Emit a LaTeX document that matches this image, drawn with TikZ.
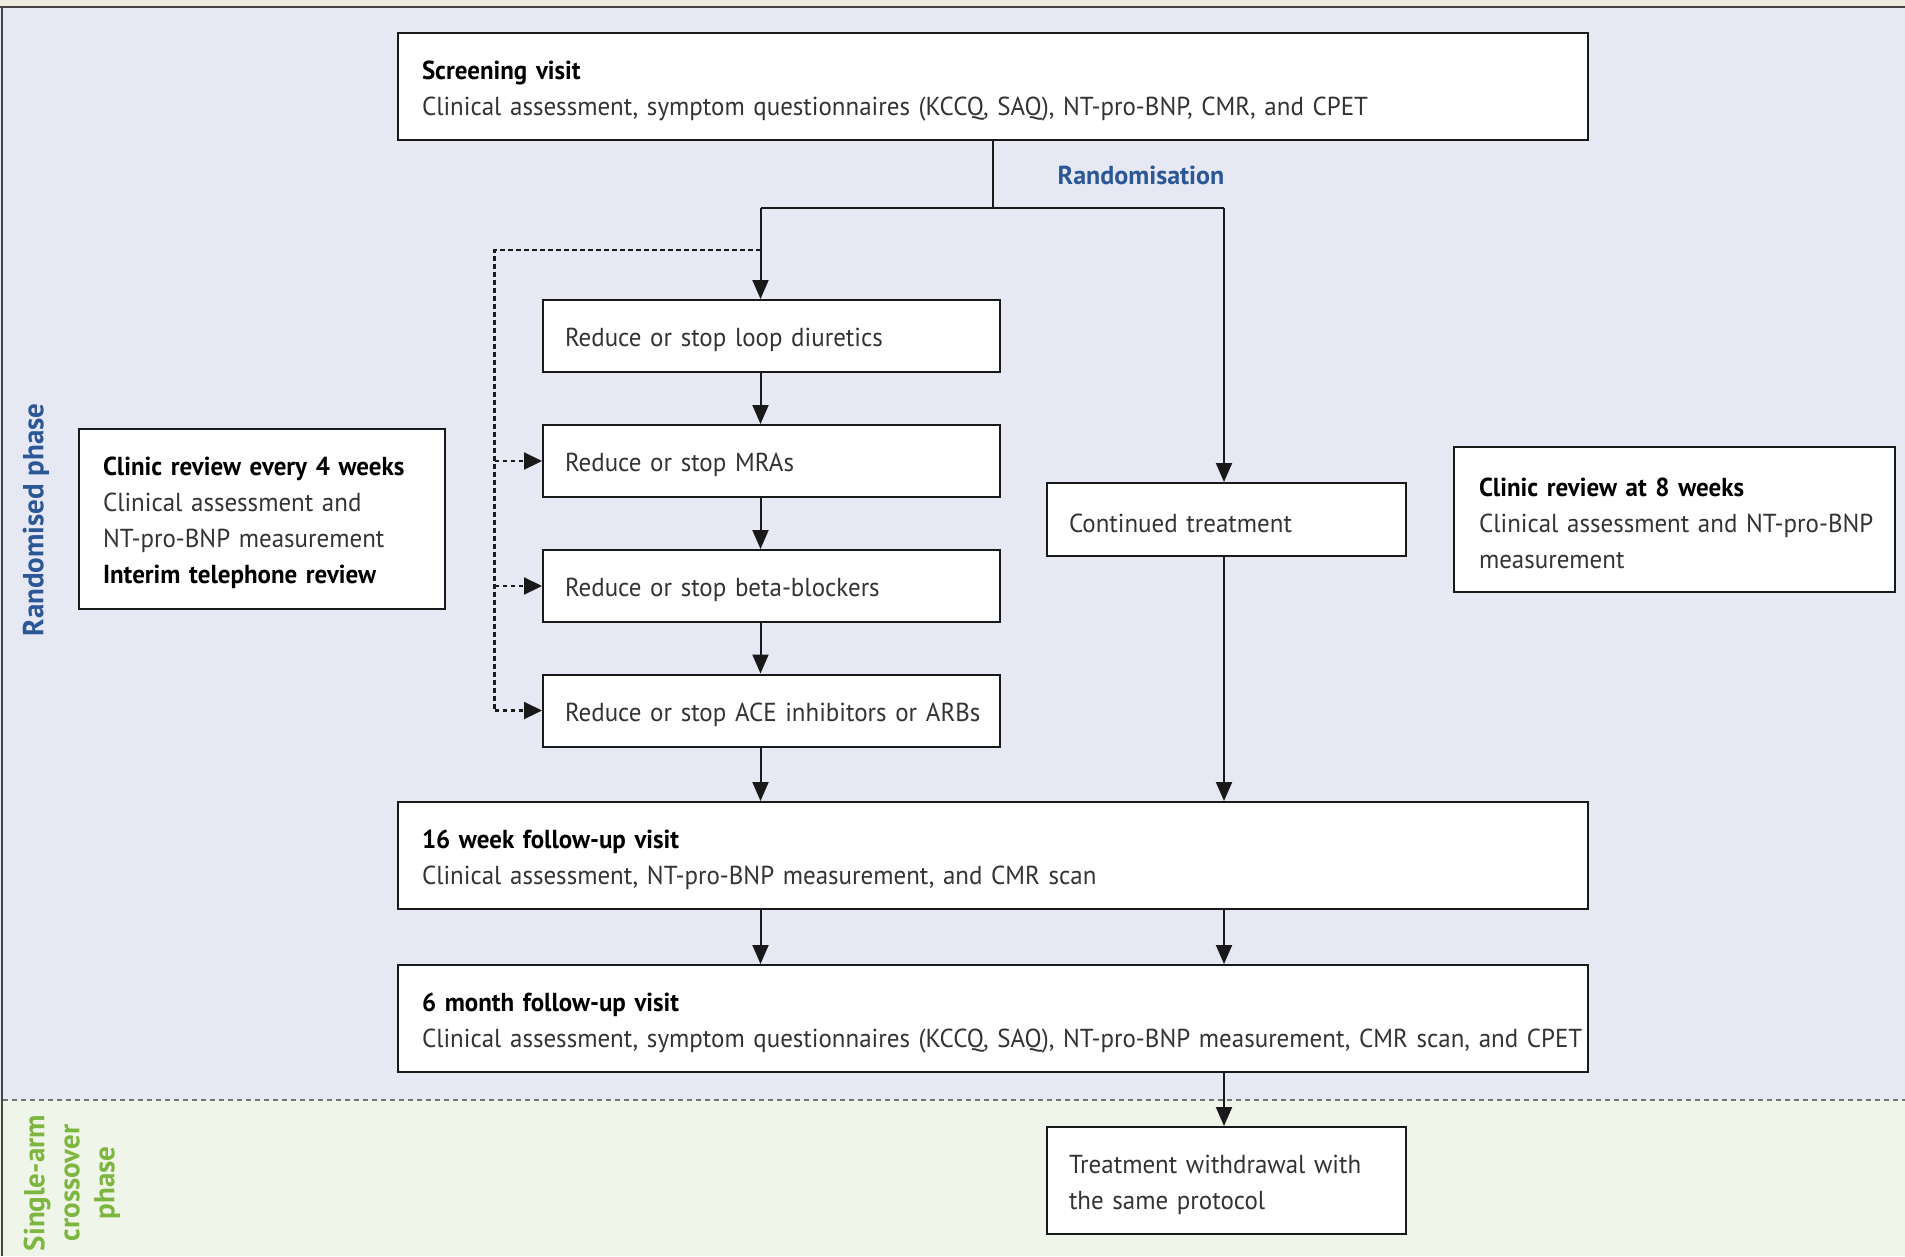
\documentclass[tikz,border=0pt]{standalone}
\usepackage{fontspec}
\setmainfont{PT Sans}[FakeStretch=0.96]
\newfontfamily\lblfont{PT Sans}
\usetikzlibrary{arrows.meta}
\definecolor{lav}{HTML}{E6E8F3}
\definecolor{grn}{HTML}{F0F5E9}
\definecolor{beige}{HTML}{EDEADF}
\definecolor{blu}{HTML}{2B5797}
\definecolor{grt}{HTML}{7DB63E}
\definecolor{txt}{HTML}{333333}
\definecolor{frm}{HTML}{444444}
\newcommand{\boxfont}{\fontsize{26}{36}\selectfont\spaceskip=4.2pt plus 1pt minus 1pt\relax}
\tikzset{
  box/.style={draw=black!90, line width=2pt, fill=white, inner xsep=24pt, inner ysep=4pt,
    align=left, text=txt, font=\boxfont, execute at begin node={\rule{0pt}{27pt}}},
  conn/.style={line width=2pt, draw=black!90},
  arr/.style={conn, -{Triangle[length=19pt,width=16pt]}},
  dot/.style={line width=2.2pt, draw=black!90, dash pattern=on 4.5pt off 3.5pt},
  darr/.style={dot, -{Triangle[length=18pt,width=17pt]}},
  lbl/.style={rotate=90, align=center, font=\lblfont\fontsize{29}{35}\selectfont\bfseries},
}
\newcommand{\hd}[1]{\mbox{\bfseries\color{black}#1}}
\newcommand{\oneline}[1]{\mbox{#1}}
\begin{document}
\begin{tikzpicture}[x=1pt,y=-1pt]
\useasboundingbox (0,0) rectangle (1905,1256);
% backgrounds
\fill[beige] (0,0) rectangle (1905,8);
\fill[lav] (0,8) rectangle (1905,1099.5);
\fill[grn] (0,1099.5) rectangle (1905,1256);
\draw[frm, line width=2pt] (0,7) -- (1905,7);
\draw[frm, line width=2pt] (2,7) -- (2,1256);
\draw[black!55, line width=2pt, dash pattern=on 5pt off 4pt] (3,1099.5) -- (1905,1099.5);

% phase labels
\node[lbl, text=blu] (rp) at (36,520) {Randomised phase};
\node[lbl, text=grt] (sp) at (72,1183) {Single-arm\\crossover\\phase};

% boxes
\node[box, minimum width=1190pt, minimum height=107pt, text width=1142pt] (scr) at (993,86.5)
  {\hd{Screening visit}\\\oneline{Clinical assessment, symptom questionnaires (KCCQ, SAQ), NT-pro-BNP, CMR, and CPET}};
\node[font=\lblfont\fontsize{26}{36}\selectfont\bfseries, text=blu] (rand) at (1141,175) {Randomisation};

\node[box, minimum width=457pt, minimum height=72pt, text width=413pt, inner xsep=22pt] (loop) at (771.5,336) {\oneline{Reduce or stop loop diuretics}};
\node[box, minimum width=457pt, minimum height=72pt, text width=413pt, inner xsep=22pt] (mra) at (771.5,461) {\oneline{Reduce or stop MRAs}};
\node[box, minimum width=457pt, minimum height=72pt, text width=413pt, inner xsep=22pt] (beta) at (771.5,586) {\oneline{Reduce or stop beta-blockers}};
\node[box, minimum width=457pt, minimum height=72pt, text width=413pt, inner xsep=22pt] (ace) at (771.5,710.5) {\oneline{Reduce or stop ACE inhibitors or ARBs}};

\node[box, minimum width=359pt, minimum height=73pt, text width=315pt, inner xsep=22pt] (cont) at (1226.5,519.5) {\oneline{Continued treatment}};

\node[box, minimum width=366pt, minimum height=180pt, text width=318pt] (c4) at (262,519)
  {\hd{Clinic review every 4 weeks}\\\oneline{Clinical assessment and}\\\oneline{NT-pro-BNP measurement}\\\hd{Interim telephone review}};
\node[box, minimum width=441pt, minimum height=145pt, text width=391pt, inner xsep=25pt] (c8) at (1674.5,519.5)
  {\hd{Clinic review at 8 weeks}\\\oneline{Clinical assessment and NT-pro-BNP}\\\oneline{measurement}};

\node[box, minimum width=1190pt, minimum height=107pt, text width=1142pt] (w16) at (993,855.5)
  {\hd{16 week follow-up visit}\\\oneline{Clinical assessment, NT-pro-BNP measurement, and CMR scan}};
\node[box, minimum width=1190pt, minimum height=107pt, text width=1142pt] (m6) at (993,1018.5)
  {\hd{6 month follow-up visit}\\\oneline{Clinical assessment, symptom questionnaires (KCCQ, SAQ), NT-pro-BNP measurement, CMR scan, and CPET}};

\node[box, minimum width=359pt, minimum height=107pt, text width=315pt, inner xsep=22pt] (wd) at (1226.5,1180.5)
  {\oneline{Treatment withdrawal with}\\\oneline{the same protocol}};

% connectors
\coordinate (bL) at (760.5,208);
\coordinate (bR) at (1224,208);
\coordinate (dT) at (494.5,250);
\draw[conn] (scr.south) -- (scr.south |- bL);
\draw[conn] (bL) -- (bR);
\draw[arr] (bL) -- (bL |- loop.north);
\draw[arr] (bR) -- (bR |- cont.north);
\draw[arr] (bL |- loop.south) -- (bL |- mra.north);
\draw[arr] (bL |- mra.south) -- (bL |- beta.north);
\draw[arr] (bL |- beta.south) -- (bL |- ace.north);
\draw[arr] (bL |- ace.south) -- (bL |- w16.north);
\draw[arr] (bR |- cont.south) -- (bR |- w16.north);
\draw[arr] (bL |- w16.south) -- (bL |- m6.north);
\draw[arr] (bR |- w16.south) -- (bR |- m6.north);
\draw[arr] (bR |- m6.south) -- (bR |- wd.north);

\draw[dot] (bL |- dT) -- (dT) -- (dT |- ace.west);
\draw[darr] (dT |- mra.west) -- (mra.west);
\draw[darr] (dT |- beta.west) -- (beta.west);
\draw[darr] (dT |- ace.west) -- (ace.west);
\end{tikzpicture}
\end{document}
